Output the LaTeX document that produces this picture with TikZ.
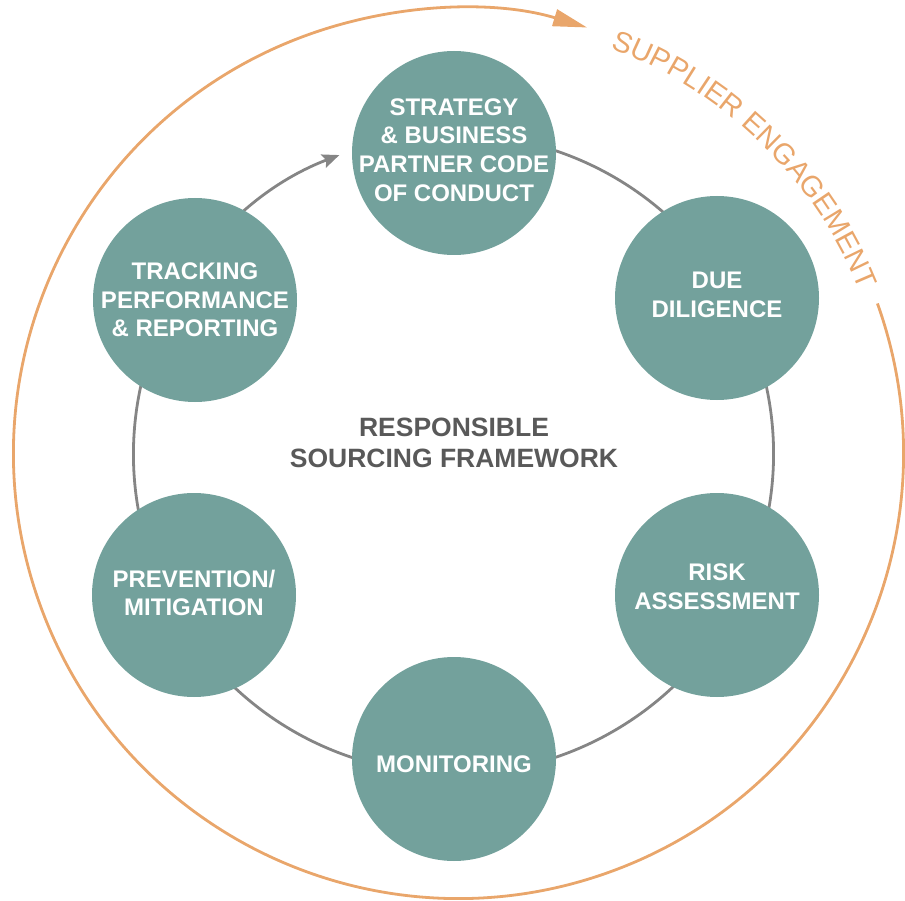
\documentclass[tikz,border=0pt]{standalone}
\usepackage{fontspec}
\setmainfont{Liberation Sans}
\usetikzlibrary{arrows.meta,decorations.text}
\definecolor{tealfill}{HTML}{73A19C}
\definecolor{ringgray}{HTML}{858585}
\definecolor{sorange}{HTML}{E9A66B}
\definecolor{textgray}{HTML}{595959}
\begin{document}
\begin{tikzpicture}[x=1pt,y=1pt,
  stage/.style={circle, fill=tealfill, minimum size=204pt, inner sep=0pt},
  stagetext/.style={align=center, text=white, inner sep=0pt, font=\bfseries\fontsize{24}{28.7}\selectfont},
  ring/.style={draw=ringgray, line width=2.8pt},
  outerring/.style={draw=sorange, line width=2.8pt}]
\useasboundingbox (0,0) rectangle (905,-901);
\coordinate (G) at (453.5,-454);
\coordinate (O) at (458.5,-453.5);
% outer supplier engagement ring
\draw[outerring, -{Triangle[length=34pt,width=17pt]}] ([shift={(19.7:445)}]O) arc[start angle=19.7, end angle=-286.8, radius=445];
\path[decorate, decoration={text along path, text align=center,
  text={|\color{sorange}\fontsize{29}{29}\selectfont|SUPPLIER ENGAGEMENT}}]
  ([shift={(70:433)}]O) arc[start angle=70, end angle=21.5, radius=433];
% inner cycle ring
\draw[ring, -{Stealth[length=17pt,width=14pt,inset=3pt]}] ([shift={(75:320)}]G) arc[start angle=75, end angle=-249.1, radius=320];
% stages
\node[stage, label={[stagetext, yshift=3]center:{STRATEGY\\\& BUSINESS\\PARTNER CODE\\OF CONDUCT}}] (strategy) at (454,-153) {};
\node[stage, label={[stagetext, yshift=3]center:{DUE\\DILIGENCE}}] (due) at (717,-298) {};
\node[stage, label={[stagetext, yshift=8]center:{RISK\\ASSESSMENT}}] (risk) at (717,-595) {};
\node[stage, label={[stagetext, yshift=-5]center:{MONITORING}}] (monitor) at (454,-759) {};
\node[stage, label={[stagetext, yshift=2]center:{PREVENTION/\\MITIGATION}}] (prevent) at (194,-595) {};
\node[stage, label={[stagetext]center:{TRACKING\\PERFORMANCE\\\& REPORTING}}] (track) at (195,-300) {};
\node[font=\bfseries\fontsize{26.5}{31}\selectfont, text=textgray, align=center] (title) at (454,-443) {RESPONSIBLE\\SOURCING FRAMEWORK};
\end{tikzpicture}
\end{document}
